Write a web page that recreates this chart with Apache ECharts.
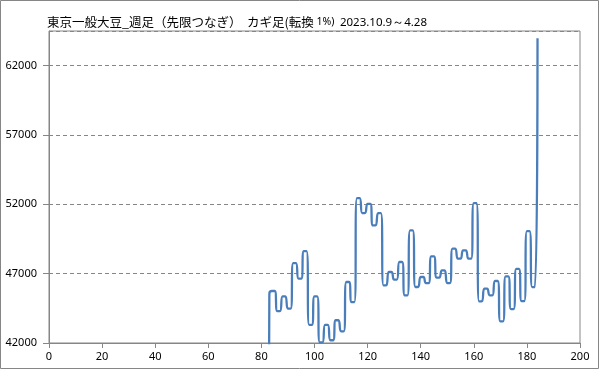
<!DOCTYPE html>
<html>
<head>
<meta charset="utf-8">
<script src="https://cdn.jsdelivr.net/npm/echarts@6/dist/echarts.min.js"></script>
<style>
html,body{margin:0;padding:0;background:#fff;}
#chart{width:599px;height:369px;}
</style>
</head>
<body>
<div id="chart"></div>
<script>
// Data
const titleMain = '東京一般大豆_週足（先限つなぎ）  カギ足(転換 ';
const titleSmall = '1%)';
const titleDate = '2023.10.9～4.28';
const startIndex = 82;
const prices = [
  0, 45560,
  45750, 45750, 44300, 44300, 45360, 45360, 44480, 44480,
  47760, 47760, 46640, 46640, 48630, 48630, 43300, 43300,
  45360, 45360, 42050, 42050, 43300, 43300, 42200, 42200,
  43640, 43640, 42840, 42840, 46400, 46400, 44950, 44950,
  52450, 52450, 51370, 51370, 52040, 52040, 50480, 50480,
  51370, 51370, 46160, 46160, 47120, 47120, 46570, 46570,
  47840, 47840, 45440, 45440, 50120, 50120, 46040, 46040,
  46760, 46760, 46320, 46320, 48250, 48250, 46710, 46710,
  47240, 47240, 46320, 46320, 48800, 48800, 48080, 48080,
  48680, 48680, 48080, 48080, 52090, 52090, 45000, 45000,
  45920, 45920, 45440, 45440, 46470, 46470, 43560, 43560,
  46810, 46810, 44450, 44450, 47340, 47340, 45020, 45020,
  50070, 50070, 46035, 46035, 63975
];
const xTicks = [0, 20, 40, 60, 80, 100, 120, 140, 160, 180, 200];
const yTicks = [42000, 47000, 52000, 57000, 62000];

const seriesData = prices.map((v, i) => [startIndex + i, v]);

const chart = echarts.init(document.getElementById('chart'), null, {renderer: 'canvas'});
const axisGray = '#868686';
chart.setOption({
  animation: false,
  backgroundColor: '#ffffff',
  title: {
    left: 42,
    top: 11,
    text: '{m|' + titleMain + '}{s|' + titleSmall + '}{g|  }{d|' + titleDate + '}',
    textStyle: {
      fontWeight: 'normal',
      rich: {
        m: {fontFamily: 'Noto Sans CJK JP', fontSize: 12.5, fontWeight: 'normal', color: '#000'},
        s: {fontFamily: 'Noto Sans', fontSize: 10.5, fontWeight: 'normal', color: '#000'},
        g: {fontFamily: 'Noto Sans', fontSize: 10.5, fontWeight: 'normal'},
        d: {fontFamily: 'Noto Sans', fontSize: 11.5, fontWeight: 'normal', color: '#000'}
      }
    }
  },
  graphic: [{
    type: 'rect',
    shape: {x: 0.5, y: 0.5, width: 598, height: 368},
    style: {fill: 'none', stroke: axisGray, lineWidth: 1},
    silent: true
  }],
  grid: {
    left: 49, right: 19, top: 31, bottom: 26,
    show: true, borderColor: axisGray, borderWidth: 1, backgroundColor: 'transparent'
  },
  xAxis: {
    type: 'value',
    min: xTicks[0], max: xTicks[xTicks.length - 1], interval: 20,
    axisLine: {show: true, lineStyle: {color: axisGray, width: 1}},
    axisTick: {show: true, length: 5, inside: false, lineStyle: {color: axisGray}},
    axisLabel: {color: '#000', fontFamily: 'Noto Sans', fontSize: 11, margin: 8},
    splitLine: {show: false}
  },
  yAxis: {
    type: 'value',
    min: yTicks[0], max: 64500, interval: 5000,
    axisLine: {show: true, lineStyle: {color: axisGray, width: 1}},
    axisTick: {show: true, length: 6, inside: false, lineStyle: {color: axisGray}},
    axisLabel: {
      color: '#000', fontFamily: 'Noto Sans', fontSize: 11, margin: 12,
      showMaxLabel: false,
      formatter: v => (yTicks.indexOf(v) >= 0 ? String(v) : '')
    },
    splitLine: {show: true, lineStyle: {color: axisGray, type: [4, 3], width: 1}}
  },
  series: [{
    type: 'line',
    data: seriesData,
    smooth: 0.5,
    symbol: 'none',
    clip: true,
    lineStyle: {color: '#4a7ebb', width: 2.3},
    itemStyle: {color: '#4a7ebb'}
  }]
});
</script>
</body>
</html>
